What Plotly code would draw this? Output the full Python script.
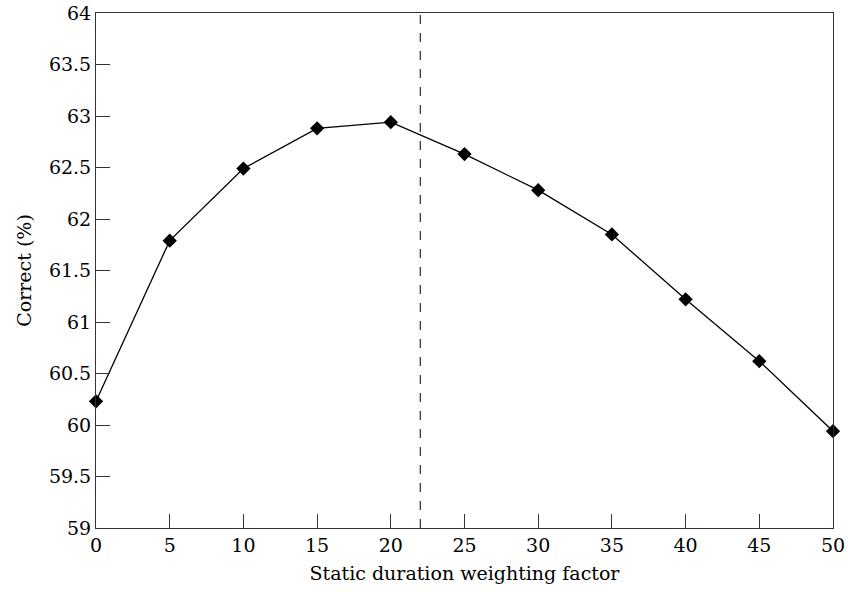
import plotly.graph_objects as go

weighting = [0, 5, 10, 15, 20, 25, 30, 35, 40, 45, 50]
correct = [60.23, 61.79, 62.49, 62.88, 62.94, 62.63, 62.28, 61.85, 61.22, 60.62, 59.94]
optimum = 22
x_ticks = [0, 5, 10, 15, 20, 25, 30, 35, 40, 45, 50]
y_ticks = [59, 59.5, 60, 60.5, 61, 61.5, 62, 62.5, 63, 63.5, 64]

font = "DejaVu Serif"
fs = 19
fig = go.Figure()
fig.add_trace(go.Scatter(
    x=weighting, y=correct, mode="lines+markers",
    line=dict(color="black", width=1.3),
    marker=dict(symbol="diamond", size=11, color="black"),
    cliponaxis=False, showlegend=False))
fig.add_shape(type="line", xref="x", yref="paper", x0=optimum, x1=optimum, y0=0, y1=1,
              line=dict(color="black", width=1, dash="dash"))

fig.update_layout(
    width=848, height=592, paper_bgcolor="white", plot_bgcolor="white",
    margin=dict(l=96, r=15, t=13, b=64),
    font=dict(family=font, size=fs, color="black"),
)
fig.update_xaxes(range=[0, 50], tickvals=x_ticks, ticktext=[str(v) for v in x_ticks],
                 ticks="inside", ticklen=14, tickwidth=1, tickcolor="#333",
                 showline=True, linecolor="#333", linewidth=1, mirror=True,
                 showgrid=False, zeroline=False, automargin=False,
                 tickfont=dict(family=font, size=fs, color="black"),
                 title=dict(text="Static duration weighting factor", standoff=11,
                            font=dict(family=font, size=fs, color="black")))
fig.update_yaxes(range=[59, 64], tickvals=y_ticks, ticktext=[f"{v:g}" for v in y_ticks],
                 ticks="inside", ticklen=14, tickwidth=1, tickcolor="#333",
                 showline=True, linecolor="#333", linewidth=1, mirror=True,
                 showgrid=False, zeroline=False, automargin=False,
                 tickfont=dict(family=font, size=fs, color="black"),
                 title=dict(text="Correct (%)", standoff=12,
                            font=dict(family=font, size=fs, color="black")))
fig.write_html("out.html", config={"displayModeBar": False},
               post_script="document.body.style.margin='0';document.body.style.overflow='hidden';")
